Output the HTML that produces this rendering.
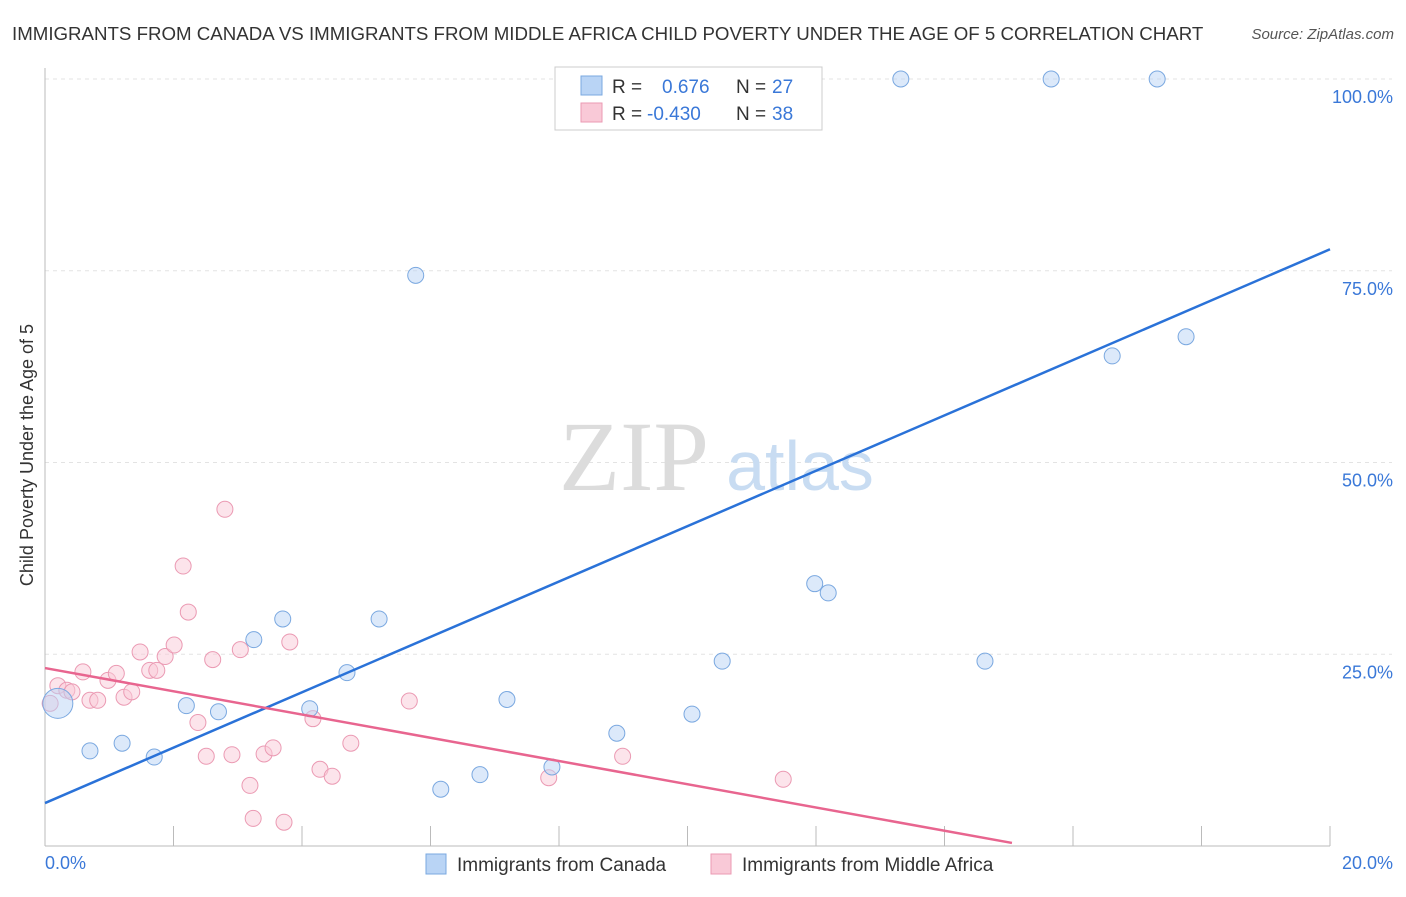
<!DOCTYPE html>
<html><head><meta charset="utf-8"><style>
body{margin:0;background:#fff;font-family:"Liberation Sans",sans-serif;}
svg text{font-family:"Liberation Sans",sans-serif;}
</style></head><body>
<svg id="chart" width="1406" height="892">
<text x="12" y="40" font-size="18.7" fill="#333">IMMIGRANTS FROM CANADA VS IMMIGRANTS FROM MIDDLE AFRICA CHILD POVERTY UNDER THE AGE OF 5 CORRELATION CHART</text>
<text x="1394" y="39" font-size="15" fill="#555" font-style="italic" text-anchor="end">Source: ZipAtlas.com</text>
<g id="grid"></g>
<g><text x="634" y="490" font-size="100" style="font-family:'Liberation Serif',serif" fill="#dcdcdc" text-anchor="middle">ZIP</text><text x="800" y="490" font-size="70" fill="#c8dcf2" text-anchor="middle">atlas</text></g>
<line x1="45" y1="68" x2="45" y2="846" stroke="#bbb"/>
<line x1="45" y1="846" x2="1330" y2="846" stroke="#bbb"/>
<g id="ticks"></g>
<g id="ylabels"></g>
<text x="45" y="869" font-size="18" fill="#3a78d8">0.0%</text>
<text x="1393" y="869" font-size="18" fill="#3a78d8" text-anchor="end">20.0%</text>
<text transform="translate(33,455) rotate(-90)" font-size="18" fill="#333" text-anchor="middle">Child Poverty Under the Age of 5</text>
<g id="pink"></g>
<g id="blue"></g>
<g id="lines"></g>
<g>
<rect x="555" y="67" width="267" height="63" fill="#fff" stroke="#ccc"/>
<rect x="581" y="76" width="21" height="19" fill="#b9d4f5" stroke="#7aa8e0"/>
<rect x="581" y="103" width="21" height="19" fill="#f9c9d7" stroke="#eb9ab3"/>
<text x="612" y="93" font-size="19" fill="#333">R = </text><text x="662" y="93" font-size="19" fill="#3a78d8">0.676</text>
<text x="736" y="93" font-size="19" fill="#333">N = </text><text x="772" y="93" font-size="19" fill="#3a78d8">27</text>
<text x="612" y="120" font-size="19" fill="#333">R = </text><text x="647" y="120" font-size="19" fill="#3a78d8">-0.430</text>
<text x="736" y="120" font-size="19" fill="#333">N = </text><text x="772" y="120" font-size="19" fill="#3a78d8">38</text>
</g>
<g><rect x="426" y="854" width="20" height="20" fill="#b9d4f5" stroke="#7aa8e0"/><text x="457" y="871" font-size="19" fill="#333">Immigrants from Canada</text></g>
<g><rect x="711" y="854" width="20" height="20" fill="#f9c9d7" stroke="#eb9ab3"/><text x="742" y="871" font-size="19" fill="#333">Immigrants from Middle Africa</text></g>
</svg>
<script>
const blueX=[0.2,0.7,1.2,1.7,2.2,2.7,3.25,3.7,4.12,4.7,5.2,5.77,6.16,6.77,7.19,7.89,8.9,10.07,10.54,11.98,12.19,13.32,14.63,15.66,16.61,17.31,17.76];
const blueY=[18.6,12.4,13.4,11.6,18.3,17.5,26.9,29.6,17.9,22.6,29.6,74.4,7.4,9.3,19.1,10.3,14.7,17.2,24.1,34.2,33.0,100,24.1,100,63.9,100,66.4];
const pinkX=[0.08,0.2,0.34,0.42,0.59,0.7,0.82,0.98,1.11,1.23,1.35,1.48,1.63,1.74,1.87,2.01,2.15,2.23,2.38,2.51,2.61,2.8,2.91,3.04,3.19,3.24,3.41,3.55,3.72,3.81,4.17,4.28,4.47,4.76,5.67,7.84,8.99,11.49];
const pinkY=[18.6,20.9,20.3,20.1,22.7,19.0,19.0,21.6,22.5,19.4,20.1,25.3,22.9,22.9,24.7,26.2,36.5,30.5,16.1,11.7,24.3,43.9,11.9,25.6,7.9,3.6,12.0,12.8,3.1,26.6,16.6,10.0,9.1,13.4,18.9,8.9,11.7,8.7];
const trendBlue=[5.6,77.8];
const trendPinkA=23.2, trendPinkSlope=-1.515;
const yTicks=[25,50,75,100];
const yLabels=["25.0%","50.0%","75.0%","100.0%"];
const NS="http://www.w3.org/2000/svg";
const X=v=>45+v/20*1285, Y=v=>846-v*7.67;
function mk(t,a,p){const e=document.createElementNS(NS,t);for(const k in a)e.setAttribute(k,a[k]);p.appendChild(e);return e;}
const grid=document.getElementById('grid'),yl=document.getElementById('ylabels');
yTicks.forEach((t,i)=>{
 const l=mk('line',{x1:45,x2:1392,y1:Y(t),y2:Y(t),stroke:'#e3e3e3','stroke-dasharray':'4,4'},grid);
 
 
 const tx=mk('text',{x:1393,y:Y(t)+24,'font-size':18,fill:'#3a78d8','text-anchor':'end'},yl);
 tx.textContent=yLabels[i];
 
 
});
const tk=document.getElementById('ticks');
for(let i=0;i<=10;i++){const l=mk('line',{x1:X(i*2),x2:X(i*2),y1:826,y2:846,stroke:'#bbb'},tk);
 
 }
const pg=document.getElementById('pink');
pinkX.forEach((x,i)=>{const c=mk('circle',{cx:X(x),cy:Y(pinkY[i]),r:8,fill:'#f9c9d7','fill-opacity':0.5,stroke:'#eb9ab3'},pg);
 
 });
const bg=document.getElementById('blue');
blueX.forEach((x,i)=>{const c=mk('circle',{cx:X(x),cy:Y(blueY[i]),r:i==0?15:8,fill:'#b9d4f5','fill-opacity':0.5,stroke:'#7aa8e0'},bg);
 
 });
const lg=document.getElementById('lines');
const b=mk('line',{x1:X(0),y1:Y(trendBlue[0]),x2:X(20),y2:Y(trendBlue[1]),stroke:'#2a72d8','stroke-width':2.5},lg);


const xe=15.05;
const p=mk('line',{x1:X(0),y1:Y(trendPinkA),x2:X(xe),y2:Y(trendPinkA+trendPinkSlope*xe),stroke:'#e8658f','stroke-width':2.5},lg);


</script>
</body></html>
